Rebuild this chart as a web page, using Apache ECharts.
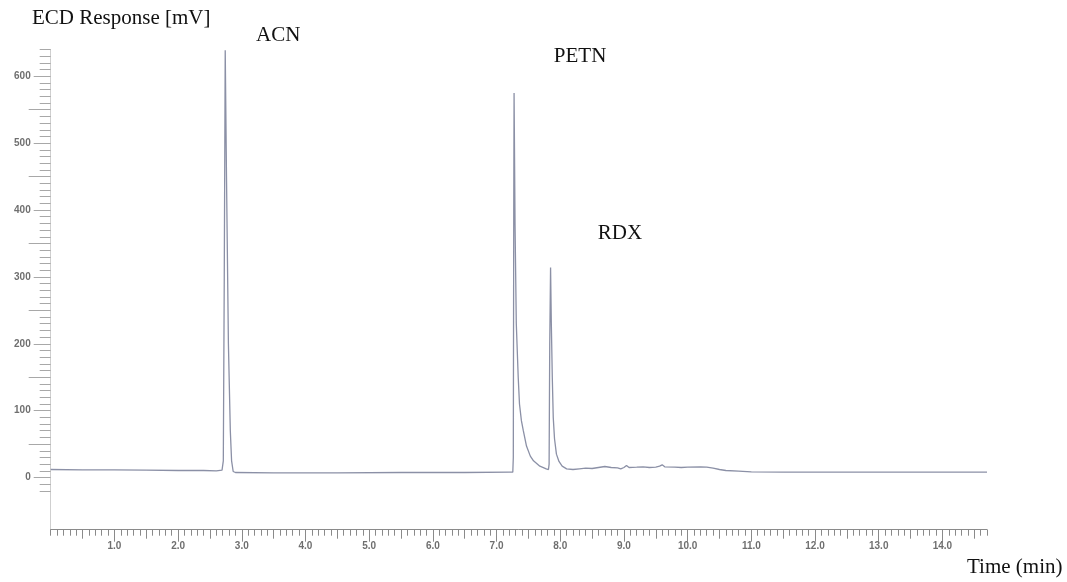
<!DOCTYPE html>
<html>
<head>
<meta charset="utf-8">
<script src="https://cdn.jsdelivr.net/npm/echarts@6/dist/echarts.min.js"></script>
<style>
html,body{margin:0;padding:0;background:#fff;}
#chart{width:1067px;height:582px;}
</style>
</head>
<body>
<div id="chart"></div>
<script>
// ---- data (time in min, ECD response in mV) ----
const times = [
  0.00, 0.50, 1.00, 1.50, 2.00, 2.40, 2.60, 2.69, 2.71, 2.725, 2.74, 2.76, 2.79, 2.82, 2.84, 2.865, 2.90,
  3.50, 4.50, 5.50, 6.50, 7.20, 7.255, 7.263, 7.27, 7.275, 7.29, 7.31, 7.34, 7.36, 7.39, 7.42, 7.47, 7.53, 7.58, 7.68, 7.78, 7.815,
  7.825, 7.835, 7.848, 7.86, 7.875, 7.89, 7.91, 7.94, 7.98, 8.03, 8.10, 8.20,
  8.30, 8.40, 8.50, 8.60, 8.70, 8.80, 8.90, 8.95, 9.00, 9.04, 9.08, 9.20, 9.30, 9.40, 9.50, 9.56, 9.60, 9.64, 9.80, 9.90,
  10.00, 10.20, 10.30, 10.40, 10.50, 10.60, 10.80, 11.00, 11.50, 12.00, 13.00, 14.00, 14.70
];
const response = [
  12, 11.5, 11.5, 11, 10.5, 10.5, 10, 11, 25, 300, 639, 450, 200, 70, 25, 9, 7.5,
  7, 7, 7.5, 7.5, 8, 8, 30, 400, 575, 380, 230, 150, 110, 85, 70, 47, 32, 25, 17, 13, 12,
  20, 200, 314, 230, 150, 90, 58, 35, 24, 17, 13, 12,
  13, 14, 13.5, 15, 16.5, 15, 14.5, 13, 15, 18, 15, 15.5, 16, 15, 15.5, 17, 19, 16, 15.5, 15,
  15.5, 16, 15.5, 14, 12, 10.5, 9.5, 8.5, 8, 8, 8, 8, 8
];
const peakNames = ['ACN', 'PETN', 'RDX'];
const peakTimes = [2.74, 7.275, 7.848];
const peakHeights = [639, 575, 314];

const yTickLabels = [0, 100, 200, 300, 400, 500, 600];
const xTickLabels = ['1.0','2.0','3.0','4.0','5.0','6.0','7.0','8.0','9.0','10.0','11.0','12.0','13.0','14.0'];

// ---- tick positions ----
const yMid = [];   // 50-level ticks
for (let v = 50; v <= 550; v += 100) yMid.push(v);
const yMinor = []; // 10-level ticks
for (let v = -20; v <= 640; v += 10) { if (v % 50 !== 0) yMinor.push(v); }
const xMajor = xTickLabels.map(s => parseFloat(s));
const xHalf = [];
for (let i = 0; i < 15; i++) xHalf.push(i + 0.5);
const xMinor = [];
for (let i = 0; i <= 147; i++) { if (i % 5 !== 0 || i === 0) xMinor.push(i / 10); }

const data = times.map((t, i) => [t, response[i]]);

const X_MIN = 0, X_MAX = 14.7, Y_MIN = -78, Y_MAX = 640;
const tickColor = '#8a8a8a';
const labelFont = {fontFamily: 'Liberation Sans', fontSize: 10, fontWeight: 'bold', color: '#6f6f6f'};

function yAx(extra) {
  return Object.assign({
    type: 'value', min: Y_MIN, max: Y_MAX, position: 'left', offset: 0,
    splitLine: {show: false},
    axisLine: {show: false, onZero: false},
    axisLabel: {show: false},
    axisTick: {show: false}
  }, extra);
}
function xAx(extra) {
  return Object.assign({
    type: 'value', min: X_MIN, max: X_MAX, position: 'bottom', offset: 0,
    splitLine: {show: false},
    axisLine: {show: false, onZero: false},
    axisLabel: {show: false},
    axisTick: {show: false}
  }, extra);
}

const chart = echarts.init(document.getElementById('chart'), null, {renderer: 'canvas'});
chart.setOption({
  animation: false,
  backgroundColor: '#ffffff',
  grid: {left: 50.7, right: 80, top: 49.5, bottom: 52.3, containLabel: false},
  xAxis: [
    xAx({axisLine: {show: true, onZero: false, lineStyle: {color: tickColor, width: 1}},
         axisTick: {show: true, customValues: xMajor, length: 12, lineStyle: {color: tickColor, width: 1}},
         axisLabel: Object.assign({show: true, customValues: xMajor, margin: 12,
           formatter: v => xTickLabels[xMajor.indexOf(v)] || ''}, labelFont)}),
    xAx({axisTick: {show: true, customValues: xHalf, length: 9, lineStyle: {color: tickColor, width: 1}}}),
    xAx({axisTick: {show: true, customValues: xMinor, length: 6, lineStyle: {color: tickColor, width: 1}}})
  ],
  yAxis: [
    yAx({axisLine: {show: true, onZero: false, lineStyle: {color: '#cfcfcf', width: 1}},
         axisTick: {show: true, customValues: yTickLabels, length: 17, lineStyle: {color: '#a8a8a8', width: 1}},
         axisLabel: Object.assign({show: true, customValues: yTickLabels, margin: 20,
           formatter: v => String(v)}, labelFont)}),
    yAx({axisTick: {show: true, customValues: yMid, length: 22, lineStyle: {color: '#a8a8a8', width: 1}}}),
    yAx({axisTick: {show: true, customValues: yMinor, length: 11, lineStyle: {color: '#a8a8a8', width: 1}}})
  ],
  series: [{
    type: 'line',
    xAxisIndex: 0, yAxisIndex: 0,
    data: data,
    showSymbol: false,
    symbol: 'none',
    smooth: false,
    clip: false,
    lineStyle: {color: '#8b90a6', width: 1.3},
    markPoint: {
      symbol: 'circle', symbolSize: 0, silent: true,
      label: {show: true, position: 'inside', fontFamily: 'Liberation Serif', fontSize: 21, color: '#111',
              formatter: p => p.name},
      data: peakNames.map((n, i) => ({
        name: n, coord: [peakTimes[i], peakHeights[i]],
        label: {offset: [[53, -14.6], [66, -36.7], [69.4, -34.2]][i]}
      }))
    }
  }],
  graphic: [
    {type: 'text', left: 32, top: 8, style: {text: 'ECD Response [mV]', font: '21px "Liberation Serif"', fill: '#111'}},
    {type: 'text', left: 967, top: 557, style: {text: 'Time (min)', font: '21px "Liberation Serif"', fill: '#111'}}
  ]
});
</script>
</body>
</html>
